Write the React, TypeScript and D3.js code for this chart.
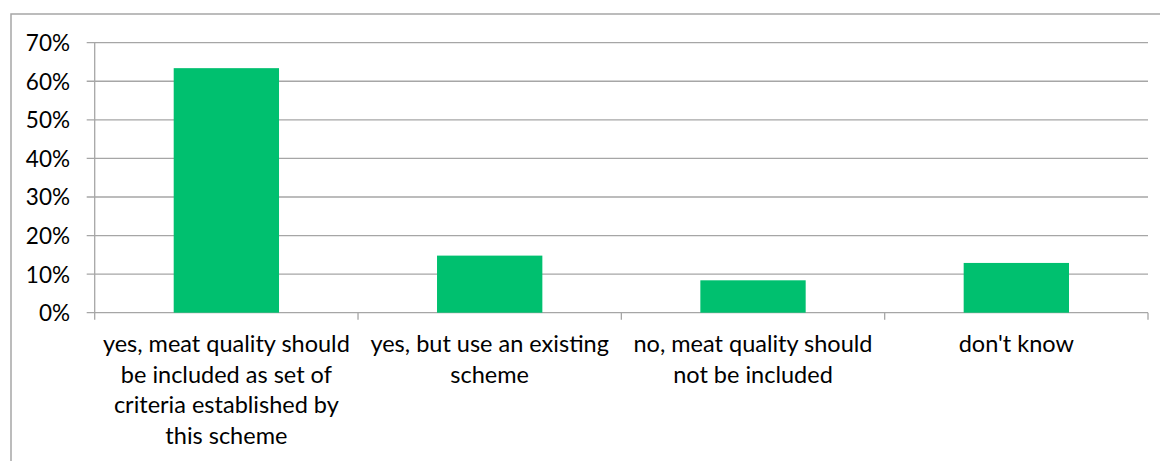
import React from "react";
import * as d3 from "d3";

// Survey answers and the share of respondents for each
const categories = [
  "yes, meat quality should be included as set of criteria established by this scheme",
  "yes, but use an existing scheme",
  "no, meat quality should not be included",
  "don't know",
];
const labelLines = [
  ["yes, meat quality should", "be included as set of", "criteria established by", "this scheme"],
  ["yes, but use an existing", "scheme"],
  ["no, meat quality should", "not be included"],
  ["don't know"],
];
const shares = [0.634, 0.148, 0.084, 0.129];
const yTicks = [0, 0.1, 0.2, 0.3, 0.4, 0.5, 0.6, 0.7];

const W = 1160;
const H = 461;
const plot = { left: 94.7, right: 1148, top: 42.7, bottom: 312.7 };
const FONT = "Lato, 'Open Sans', sans-serif";
const GRID = "#a6a6a6";
const BAR = "#00c06f";

export default function App() {
  const x = d3
    .scaleBand<string>()
    .domain(categories)
    .range([plot.left, plot.right])
    .paddingInner(0.6)
    .paddingOuter(0.3);
  const y = d3.scaleLinear().domain([0, 0.7]).range([plot.bottom, plot.top]);
  const bounds = d3.range(categories.length + 1).map((i) => plot.left + i * (plot.right - plot.left) / categories.length);
  const fmt = d3.format(".0%");

  return (
    <svg
      width={W}
      height={H}
      style={{ position: "absolute", left: 0, top: 0, background: "#fff" }}
    >
      <rect x={11} y={14} width={W + 20} height={H + 20} fill="#fff" stroke={GRID} strokeWidth={1.5} />
      {yTicks.map((t) => (
        <g key={t}>
          <line x1={plot.left - 8} x2={plot.right} y1={y(t)} y2={y(t)} stroke={GRID} strokeWidth={1.3} />
          <text
            x={70}
            y={y(t)}
            textAnchor="end"
            dominantBaseline="central"
            fontFamily={FONT}
            fontSize={22.5}
            fill="#000"
          >
            {fmt(t)}
          </text>
        </g>
      ))}
      <line x1={plot.left} x2={plot.left} y1={plot.top} y2={plot.bottom} stroke={GRID} strokeWidth={1.3} />
      {bounds.map((b, i) => (
        <line key={i} x1={b} x2={b} y1={plot.bottom} y2={plot.bottom + 7} stroke={GRID} strokeWidth={1.3} />
      ))}
      {categories.map((c, i) => (
        <rect
          key={c}
          x={x(c)}
          y={y(shares[i])}
          width={x.bandwidth()}
          height={y(0) - y(shares[i])}
          fill={BAR}
        />
      ))}
      {categories.map((c, i) => (
        <text
          key={c}
          x={(x(c) as number) + x.bandwidth() / 2}
          y={352}
          textAnchor="middle"
          fontFamily={FONT}
          fontSize={23.5}
          fill="#000"
        >
          {labelLines[i].map((ln, j) => (
            <tspan key={j} x={(x(c) as number) + x.bandwidth() / 2} y={352 + j * 30.7}>
              {ln}
            </tspan>
          ))}
        </text>
      ))}
    </svg>
  );
}
